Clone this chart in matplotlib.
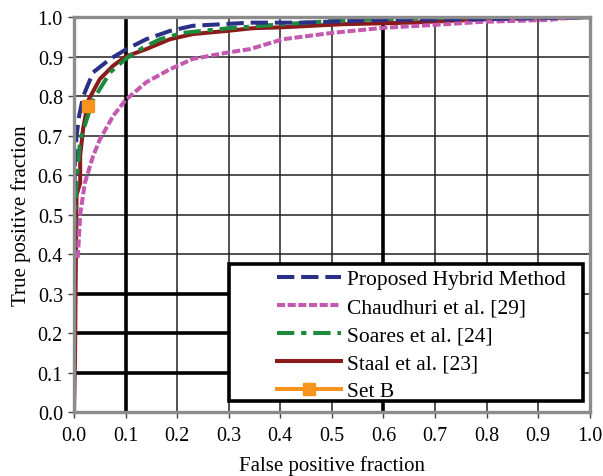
import matplotlib
matplotlib.use("Agg")
import matplotlib.pyplot as plt
from matplotlib.lines import Line2D
from matplotlib.patches import Rectangle

plt.rcParams['font.family'] = ['Liberation Serif', 'DejaVu Serif']

# Data
hyb_x = [0.0, 0.002, 0.005, 0.01, 0.018, 0.037, 0.07, 0.102, 0.14, 0.186, 0.23, 0.341, 0.438, 0.535, 0.6, 0.8, 1.0]
hyb_y = [0.5, 0.648, 0.70, 0.75, 0.80, 0.86, 0.894, 0.919, 0.944, 0.965, 0.978, 0.986, 0.986, 0.99, 0.993, 0.995, 1.0]

cha_x = [0.007, 0.008, 0.012, 0.021, 0.037, 0.05, 0.076, 0.10, 0.14, 0.186, 0.23, 0.296, 0.341, 0.405, 0.50, 0.60, 0.696, 0.79, 0.92, 0.975, 1.0]
cha_y = [0.39, 0.405, 0.50, 0.58, 0.648, 0.69, 0.75, 0.79, 0.835, 0.868, 0.894, 0.91, 0.919, 0.944, 0.96, 0.973, 0.98, 0.988, 0.993, 1.0, 1.0]

soa_x = [0.0, 0.002, 0.006, 0.012, 0.037, 0.07, 0.10, 0.134, 0.167, 0.21, 0.30, 0.405, 0.535, 0.73, 1.0]
soa_y = [0.45, 0.50, 0.60, 0.69, 0.79, 0.86, 0.894, 0.923, 0.944, 0.96, 0.972, 0.982, 0.993, 0.999, 1.0]

sta_x = [0.0, 0.002, 0.003, 0.005, 0.012, 0.012, 0.018, 0.028, 0.05, 0.076, 0.10, 0.14, 0.186, 0.23, 0.296, 0.347, 0.40, 0.52, 0.65, 0.806, 1.0]
sta_y = [0.0, 0.13, 0.30, 0.55, 0.58, 0.65, 0.72, 0.79, 0.843, 0.877, 0.90, 0.919, 0.944, 0.957, 0.965, 0.972, 0.974, 0.982, 0.986, 0.995, 1.0]

setb_x = [0.028]
setb_y = [0.775]

ticks = [0.0, 0.1, 0.2, 0.3, 0.4, 0.5, 0.6, 0.7, 0.8, 0.9, 1.0]
tick_labels = ["0.0", "0.1", "0.2", "0.3", "0.4", "0.5", "0.6", "0.7", "0.8", "0.9", "1.0"]
labels = ['Proposed Hybrid Method', 'Chaudhuri et al. [29]', 'Soares et al. [24]', 'Staal et al. [23]', 'Set B']

C_HYB, C_CHA, C_SOA, C_STA, C_SETB = '#2B3087', '#C45AB0', '#1B8A3C', '#8B1A1A', '#F7941D'
LW = 2.9
D_HYB = (4.3, 1.7)
D_CHA = (2.0, 0.65)
D_SOA = (4.3, 1.7, 1.3, 1.7)

fig = plt.figure(figsize=(6.03, 4.77), dpi=100)
ax = fig.add_axes([0.1227, 0.134, 0.8553, 0.828])

# thin grid
for t in ticks[1:-1]:
    ax.axvline(t, color='#222222', lw=1.1, zorder=1)
    ax.axhline(t, color='#222222', lw=1.1, zorder=1)
# thick lines
for t in [0.1, 0.6]:
    ax.axvline(t, color='black', lw=2.6, zorder=1.2)
for t in [0.1, 0.2, 0.3]:
    ax.axhline(t, xmin=0, xmax=0.3, color='black', lw=2.6, zorder=1.2)

ax.plot(sta_x, sta_y, color=C_STA, lw=LW, zorder=3)
ax.plot(soa_x, soa_y, color=C_SOA, lw=LW, dashes=D_SOA, zorder=3.1)
ax.plot(cha_x, cha_y, color=C_CHA, lw=LW, dashes=D_CHA, zorder=3.2)
ax.plot(hyb_x, hyb_y, color=C_HYB, lw=LW, dashes=D_HYB, zorder=3.3)
ax.plot(setb_x, setb_y, color=C_SETB, marker='s', ms=9, ls='none', zorder=4)

ax.set_xlim(0, 1)
ax.set_ylim(0, 1)
ax.set_xticks(ticks)
ax.set_xticklabels(tick_labels)
ax.set_yticks(ticks)
ax.set_yticklabels(tick_labels)
ax.tick_params(axis='both', direction='out', length=4, width=1, color='#444444', labelsize=14.5, pad=4)
ax.tick_params(axis='x', pad=6)
for s in ax.spines.values():
    s.set_color('#8C8C8C')
    s.set_linewidth(2.4)
    s.set_zorder(5)

ax.set_xlabel('False positive fraction', fontsize=15, labelpad=7)
ax.set_ylabel('True positive fraction', fontsize=15, labelpad=5)

# legend frame
frame = Rectangle((0.300, 0.029), 0.686, 0.346, transform=ax.transAxes, facecolor='white',
                  edgecolor='black', lw=2.6, zorder=6)
ax.add_patch(frame)

handles = [
    Line2D([], [], color=C_HYB, lw=LW, dashes=D_HYB),
    Line2D([], [], color=C_CHA, lw=LW, dashes=D_CHA),
    Line2D([], [], color=C_SOA, lw=LW, dashes=D_SOA),
    Line2D([], [], color=C_STA, lw=LW),
    Line2D([], [], color=C_SETB, lw=LW, marker='s', ms=9),
]
leg = ax.legend(handles, labels, loc='upper left', bbox_to_anchor=(0.393, 0.362),
                fontsize=15.5, frameon=False, handlelength=3.0, handletextpad=0.25,
                borderpad=0, labelspacing=0.37, borderaxespad=0)
leg.set_zorder(7)

fig.savefig('out.png', dpi=100)
